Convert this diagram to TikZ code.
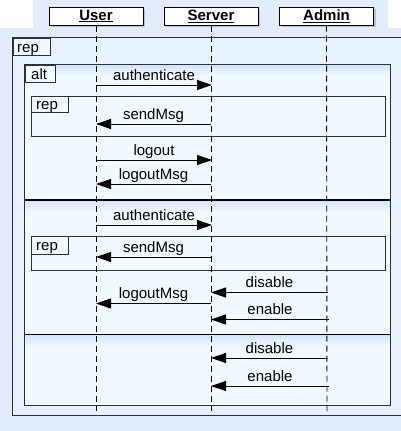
\documentclass[tikz,border=0pt]{standalone}
\usepackage{fontspec}
\setmainfont{Liberation Sans}
\usetikzlibrary{arrows.meta,shadows,calc}
\definecolor{bgblue}{RGB}{226,236,251}
\definecolor{outerfill}{RGB}{232,242,253}
\definecolor{framefill}{RGB}{240,250,255}
\definecolor{shadeblue}{RGB}{214,228,252}
\definecolor{frameline}{RGB}{45,48,55}
\tikzset{
  head/.style={draw=black, fill=white, line width=1pt, minimum width=94pt, minimum height=18pt,
    inner sep=0pt, drop shadow={shadow xshift=2pt, shadow yshift=-2pt, fill=black!40},
    font=\fontsize{15}{16}\selectfont\bfseries},
  life/.style={draw=black, line width=0.9pt, dash pattern=on 6pt off 4pt},
  frame/.style={draw=frameline, line width=1.2pt},
  subframe/.style={draw=frameline, line width=1pt},
  sep/.style={draw=black, line width=1.6pt},
  tag/.style={draw=frameline, line width=1pt, fill=framefill, anchor=north west, inner sep=0pt,
    font=\fontsize{15}{16}\selectfont},
  tagtext/.style={font=\fontsize{15}{16}\selectfont, anchor=base west, inner sep=0pt},
  msg/.style={draw=black, line width=0.9pt, -{Triangle[length=15pt,width=10pt]}},
  lbl/.style={anchor=base, yshift=5pt, inner sep=0pt, font=\fontsize{15}{16}\selectfont}
}
\begin{document}
\begin{tikzpicture}[x=1pt,y=-1pt]
\useasboundingbox (0,0) rectangle (401,431);
% background
\fill[bgblue] (0,0) rectangle (401,431);
\fill[white] (0,0) rectangle (33,28);
\fill[white] (388,0) rectangle (401,28);
% outer rep frame
\filldraw[frame, fill=outerfill] (12.5,37.5) rectangle (404,415.5);
\node[tag, minimum width=37.5pt, minimum height=17.5pt] (tagrep0) at (12.5,37.5) {};
\node[tagtext] (trep0) at (17,52) {rep};
% alt frame
\filldraw[frame, fill=framefill] (24.5,64.5) rectangle (390.5,405.5);
\shade[top color=shadeblue, bottom color=framefill] (25.2,65.2) rectangle (389.8,76);
\shade[top color=shadeblue, bottom color=framefill] (25.2,200.5) rectangle (389.8,212);
\shade[top color=shadeblue, bottom color=framefill] (25.2,335) rectangle (389.8,346);
\node[tag, minimum width=30.5pt, minimum height=17.5pt] (tagalt) at (24.5,64.5) {};
\node[tagtext] (talt) at (31,79) {alt};
\draw[sep] (24.5,200) -- (390.5,200);
\draw[sep] (24.5,334.5) -- (390.5,334.5);
% inner rep frames
\draw[subframe] (31,96) rectangle (385,136);
\node[tag, minimum width=37pt, minimum height=16pt] (tagrep1) at (31,96) {};
\node[tagtext] (trep1) at (36,109) {rep};
\draw[subframe] (31,236) rectangle (385,270);
\node[tag, minimum width=37pt, minimum height=18pt] (tagrep2) at (31,236) {};
\node[tagtext] (trep2) at (36,250) {rep};
% headers
\node[head] (user) at (96,16) {\underline{User}};
\node[head] (server) at (211,16) {\underline{Server}};
\node[head] (admin) at (326.5,16) {\underline{Admin}};
% lifelines
\coordinate (userEnd) at (96,411);
\coordinate (serverEnd) at (211,411);
\coordinate (adminEnd) at (327,411);
\draw[life] (user.south) -- (userEnd);
\draw[life] (server.south) -- (serverEnd);
\draw[life] (admin.south) -- (adminEnd);
% message coordinates
\coordinate (u1) at (96,85);   \coordinate (s1) at (212,85);
\coordinate (s2) at (211,124); \coordinate (u2) at (96,124);
\coordinate (u3) at (96,160);  \coordinate (s3) at (212,160);
\coordinate (s4) at (211,184); \coordinate (u4) at (96,184);
\coordinate (u5) at (96,225);  \coordinate (s5) at (212,225);
\coordinate (s6) at (211,257); \coordinate (u6) at (96,257);
\coordinate (a7) at (328,292.5); \coordinate (s7) at (211,292.5);
\coordinate (s8) at (211,303.5); \coordinate (u8) at (96,303.5);
\coordinate (a9) at (329,319.5); \coordinate (s9) at (211,319.5);
\coordinate (a10) at (328,358); \coordinate (s10) at (211,358);
\coordinate (a11) at (329,386); \coordinate (s11) at (211,386);
% messages
\draw[msg] (u1) -- node[lbl] (l1) {authenticate} (s1);
\draw[msg] (s2) -- node[lbl] (l2) {sendMsg} (u2);
\draw[msg] (u3) -- node[lbl] (l3) {logout} (s3);
\draw[msg] (s4) -- node[lbl] (l4) {logoutMsg} (u4);
\draw[msg] (u5) -- node[lbl] (l5) {authenticate} (s5);
\draw[msg] (s6) -- node[lbl] (l6) {sendMsg} (u6);
\draw[msg] (a7) -- node[lbl] (l7) {disable} (s7);
\draw[msg] (s8) -- node[lbl] (l8) {logoutMsg} (u8);
\draw[msg] (a9) -- node[lbl] (l9) {enable} (s9);
\draw[msg] (a10) -- node[lbl] (l10) {disable} (s10);
\draw[msg] (a11) -- node[lbl] (l11) {enable} (s11);
\end{tikzpicture}
\end{document}
